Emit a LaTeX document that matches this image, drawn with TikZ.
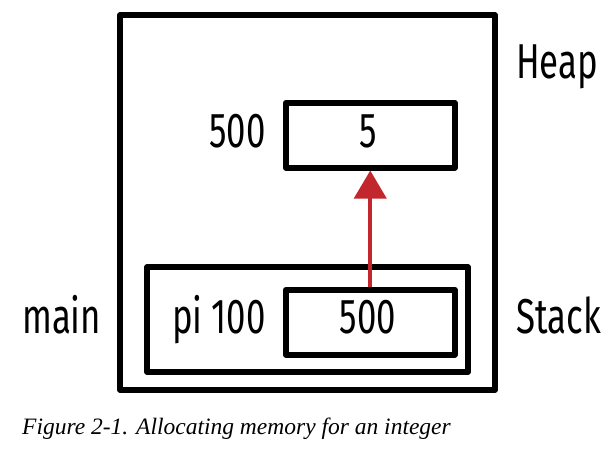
\documentclass[tikz,border=0pt]{standalone}
\usepackage{fontspec}
\setmainfont{Liberation Serif}
\newfontfamily\lblfont[FakeStretch=0.71]{Fira Sans}
\usetikzlibrary{arrows.meta}
\definecolor{arrowred}{HTML}{C1272D}
\tikzset{
  box/.style={draw=black, line width=5.5pt, line join=round},
  lbl/.style={inner sep=0pt, font=\lblfont\fontsize{49}{55}\selectfont},
  ptr/.style={draw=arrowred, line width=4pt, -{Triangle[length=28pt,width=32pt]}},
}
\begin{document}
\begin{tikzpicture}[x=1pt,y=-1pt]
\useasboundingbox (0,0) rectangle (615,452);
\draw[box] (120,15) rectangle (495,390);
\node[box, minimum width=169pt, minimum height=65pt, inner sep=0pt, anchor=north west] (heapbox) at (283,100) {};
\draw[box] (147,267) rectangle (468,372);
\node[box, minimum width=169pt, minimum height=65pt, inner sep=0pt, anchor=north west] (stackbox) at (283,287) {};
\node[lbl] (five) at (368,147) [anchor=base] {5};
\node[lbl] (addr) at (266,147) [anchor=base east] {500};
\node[lbl] (val) at (368,333) [anchor=base] {500};
\node[lbl] (pi) at (266,333) [anchor=base east] {pi 100};
\node[lbl] (main) at (22,333) [anchor=base west] {main};
\node[lbl] (heap) at (516,78) [anchor=base west] {Heap};
\node[lbl] (stack) at (516,333) [anchor=base west] {Stack};
\draw[ptr] (stackbox.north) -- (heapbox.south);
\node[inner sep=0pt, anchor=base west, font=\itshape\fontsize{23.5}{28}\selectfont] (caption) at (22,434) {Figure 2-1. Allocating memory for an integer};
\end{tikzpicture}
\end{document}
